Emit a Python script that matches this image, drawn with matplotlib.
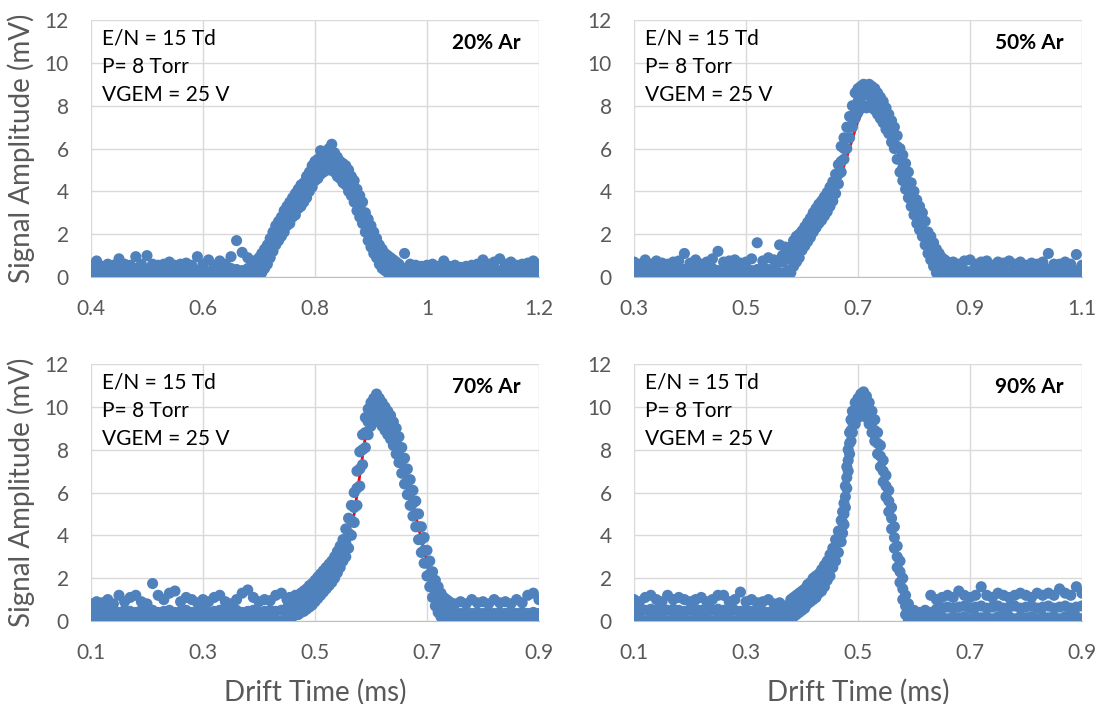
import matplotlib
matplotlib.use("Agg")
from matplotlib import pyplot as plt
from matplotlib.ticker import FuncFormatter

# ---- 20% Ar ----
t20 = [0.40, 0.41, 0.42, 0.43, 0.44, 0.45, 0.46, 0.47, 0.48, 0.49,
       0.50, 0.51, 0.52, 0.53, 0.54, 0.55, 0.56, 0.57, 0.58, 0.59,
       0.60, 0.61, 0.62, 0.63, 0.64, 0.65, 0.66, 0.67, 0.68, 0.69,
       0.700, 0.705, 0.710, 0.715, 0.720, 0.725, 0.730, 0.735, 0.740, 0.745,
       0.750, 0.755, 0.760, 0.765, 0.770, 0.775, 0.780, 0.785, 0.790, 0.795,
       0.800, 0.805, 0.810, 0.815, 0.820, 0.825, 0.830, 0.835, 0.840, 0.845,
       0.850, 0.855, 0.860, 0.865, 0.870, 0.875, 0.880, 0.885, 0.890, 0.895,
       0.900, 0.905, 0.910, 0.915, 0.920, 0.925, 0.930, 0.935, 0.940, 0.945,
       0.950,
       0.96, 0.97, 0.98, 0.99, 1.00, 1.01, 1.02, 1.03, 1.04, 1.05,
       1.06, 1.07, 1.08, 1.09, 1.10, 1.11, 1.12, 1.13, 1.14, 1.15,
       1.16, 1.17, 1.18, 1.19, 1.20]
lo20 = [0.05, 0.0, 0.1, 0.05, 0.0, 0.1, 0.05, 0.0, 0.1, 0.0,
        0.05, 0.1, 0.0, 0.05, 0.1, 0.0, 0.05, 0.1, 0.0, 0.05,
        0.1, 0.0, 0.05, 0.1, 0.0, 0.05, 0.1, 0.0, 0.1, 0.05,
        0.1, 0.2, 0.4, 0.6, 0.9, 1.2, 1.5, 1.7, 1.9, 2.1,
        2.4, 2.5, 2.8, 2.9, 3.2, 3.3, 3.5, 3.7, 4.0, 4.2,
        4.5, 4.6, 4.8, 4.9, 5.0, 5.0, 5.0, 4.9, 4.7, 4.6,
        4.4, 4.3, 4.0, 3.8, 3.5, 3.1, 2.8, 2.5, 2.1, 1.7,
        1.4, 1.1, 0.9, 0.6, 0.4, 0.3, 0.2, 0.1, 0.1, 0.05,
        0.0,
        0.1, 0.05, 0.1, 0.0, 0.1, 0.05, 0.0, 0.1, 0.05, 0.1,
        0.0, 0.05, 0.1, 0.0, 0.1, 0.05, 0.0, 0.1, 0.05, 0.1,
        0.0, 0.1, 0.05, 0.1, 0.0]
mid20 = [0.3, 0.35, 0.25, 0.4, 0.3, 0.35, 0.3, 0.25, 0.4, 0.3,
         0.35, 0.3, 0.25, 0.3, 0.35, 0.3, 0.25, 0.35, 0.3, 0.3,
         0.35, 0.25, 0.3, 0.35, 0.3, 0.4, 0.35, 0.3, 0.4, 0.35,
         0.5, 0.6, 0.9, 1.1, 1.4, 1.7, 1.95, 2.15, 2.35, 2.6,
         2.8, 3.0, 3.2, 3.4, 3.6, 3.8, 3.95, 4.2, 4.45, 4.7,
         4.9, 5.05, 5.2, 5.3, 5.4, 5.5, 5.5, 5.4, 5.2, 5.05,
         4.9, 4.75, 4.55, 4.3, 4.0, 3.6, 3.3, 3.0, 2.55, 2.2,
         1.9, 1.6, 1.4, 1.1, 0.9, 0.75, 0.6, 0.5, 0.45, 0.4,
         0.35,
         0.4, 0.3, 0.25, 0.3, 0.35, 0.3, 0.25, 0.3, 0.3, 0.35,
         0.25, 0.3, 0.3, 0.35, 0.3, 0.3, 0.35, 0.3, 0.3, 0.35,
         0.3, 0.25, 0.3, 0.35, 0.3]
hi20 = [0.55, 0.75, 0.5, 0.6, 0.55, 0.85, 0.6, 0.55, 0.95, 0.6,
        1.0, 0.6, 0.55, 0.6, 0.7, 0.55, 0.6, 0.65, 0.55, 0.95,
        0.6, 0.8, 0.55, 0.75, 0.6, 0.95, 1.7, 1.15, 0.9, 0.75,
        0.9, 1.1, 1.3, 1.5, 1.8, 2.1, 2.4, 2.6, 2.8, 3.1,
        3.3, 3.5, 3.7, 3.9, 4.1, 4.3, 4.4, 4.7, 4.9, 5.2,
        5.4, 5.5, 5.9, 5.7, 5.8, 6.0, 6.2, 5.8, 5.6, 5.4,
        5.3, 5.2, 5.0, 4.7, 4.5, 4.1, 3.8, 3.5, 3.0, 2.7,
        2.4, 2.1, 1.8, 1.5, 1.3, 1.1, 1.0, 0.9, 0.8, 0.7,
        0.6,
        1.1, 0.6, 0.55, 0.5, 0.55, 0.6, 0.5, 0.75, 0.5, 0.55,
        0.45, 0.5, 0.55, 0.6, 0.8, 0.6, 0.7, 0.85, 0.6, 0.7,
        0.55, 0.6, 0.65, 0.75, 0.6]
fit_t20 = [0.40, 0.68, 0.70, 0.73, 0.76, 0.79, 0.81, 0.83, 0.85, 0.87, 0.89, 0.92, 0.95, 1.00, 1.20]
fit_v20 = [0.3, 0.35, 0.5, 1.9, 3.2, 4.4, 5.1, 5.4, 4.9, 4.0, 2.6, 0.9, 0.4, 0.3, 0.3]

# ---- 50% Ar ----
t50 = [0.30, 0.31, 0.32, 0.33, 0.34, 0.35, 0.36, 0.37, 0.38, 0.39,
       0.40, 0.41, 0.42, 0.43, 0.44, 0.45, 0.46, 0.47, 0.48, 0.49,
       0.50, 0.51, 0.52, 0.53, 0.54, 0.55,
       0.560, 0.565, 0.570, 0.575, 0.580, 0.585, 0.590, 0.595, 0.600, 0.605,
       0.610, 0.615, 0.620, 0.625, 0.630, 0.635, 0.640, 0.645, 0.650, 0.655,
       0.660, 0.665, 0.670, 0.675, 0.680, 0.685, 0.690, 0.695, 0.700, 0.705,
       0.710, 0.715, 0.720, 0.725, 0.730, 0.735, 0.740, 0.745, 0.750, 0.755,
       0.760, 0.765, 0.770, 0.775, 0.780, 0.785, 0.790, 0.795, 0.800, 0.805,
       0.810, 0.815, 0.820, 0.825, 0.830, 0.835, 0.840, 0.845, 0.850, 0.855,
       0.860,
       0.87, 0.88, 0.89, 0.90, 0.91, 0.92, 0.93, 0.94, 0.95, 0.96,
       0.97, 0.98, 0.99, 1.00, 1.01, 1.02, 1.03, 1.04, 1.05, 1.06,
       1.07, 1.08, 1.09, 1.10]
lo50 = [0.1, 0.0, 0.05, 0.1, 0.0, 0.05, 0.1, 0.0, 0.05, 0.1,
        0.0, 0.05, 0.1, 0.0, 0.05, 0.1, 0.0, 0.05, 0.1, 0.0,
        0.05, 0.1, 0.0, 0.05, 0.1, 0.0,
        0.2, 0.1, 0.2, 0.3, 0.2, 0.5, 0.7, 0.9, 1.25, 1.45,
        1.65, 1.85, 2.1, 2.3, 2.5, 2.65, 2.85, 3.05, 3.3, 3.55,
        3.9, 4.35, 4.9, 5.5, 6.0, 6.5, 7.0, 7.4, 7.7, 7.9,
        8.0, 7.9, 8.0, 7.9, 7.8, 7.6, 7.4, 7.2, 6.9, 6.7,
        6.3, 6.0, 5.5, 4.9, 4.5, 4.1, 3.7, 3.3, 2.9, 2.5,
        2.2, 1.9, 1.5, 1.1, 0.8, 0.5, 0.2, 0.1, 0.05, 0.0,
        0.0,
        0.0, 0.1, 0.05, 0.0, 0.1, 0.05, 0.0, 0.1, 0.05, 0.0,
        0.1, 0.05, 0.0, 0.1, 0.05, 0.0, 0.1, 0.05, 0.0, 0.1,
        0.05, 0.0, 0.1, 0.05]
mid50 = [0.3, 0.35, 0.3, 0.3, 0.35, 0.3, 0.3, 0.4, 0.3, 0.35,
         0.3, 0.35, 0.3, 0.35, 0.4, 0.3, 0.35, 0.3, 0.4, 0.35,
         0.4, 0.3, 0.35, 0.4, 0.35, 0.4,
         0.7, 0.7, 0.8, 0.9, 1.0, 1.2, 1.35, 1.5, 1.7, 1.9,
         2.1, 2.3, 2.55, 2.75, 2.95, 3.1, 3.3, 3.5, 3.75, 4.0,
         4.35, 4.8, 5.4, 6.0, 6.5, 7.0, 7.5, 7.9, 8.2, 8.4,
         8.5, 8.5, 8.5, 8.4, 8.3, 8.1, 7.9, 7.7, 7.4, 7.2,
         6.9, 6.6, 6.1, 5.5, 5.1, 4.7, 4.3, 3.9, 3.5, 3.1,
         2.8, 2.5, 2.0, 1.6, 1.3, 1.0, 0.8, 0.6, 0.5, 0.4,
         0.35,
         0.3, 0.35, 0.3, 0.25, 0.3, 0.35, 0.3, 0.3, 0.35, 0.3,
         0.25, 0.3, 0.35, 0.3, 0.3, 0.25, 0.3, 0.35, 0.3, 0.3,
         0.35, 0.3, 0.3, 0.35]
hi50 = [0.7, 0.6, 0.8, 0.6, 0.75, 0.65, 0.6, 0.7, 0.75, 1.1,
        0.65, 0.8, 0.6, 0.7, 0.85, 1.2, 0.7, 0.75, 0.8, 0.65,
        0.7, 0.85, 1.6, 0.75, 0.9, 0.8,
        1.5, 1.0, 1.4, 1.2, 1.4, 1.7, 1.9, 2.0, 2.15, 2.35,
        2.55, 2.75, 3.0, 3.2, 3.4, 3.55, 3.75, 3.95, 4.2, 4.45,
        4.8, 5.25, 6.1, 6.5, 7.0, 7.5, 8.0, 8.6, 8.8, 8.9,
        9.0, 8.9, 9.0, 8.9, 8.8, 8.6, 8.4, 8.2, 7.9, 7.6,
        7.3, 7.0, 6.6, 6.0, 5.7, 5.3, 4.9, 4.4, 4.0, 3.6,
        3.3, 3.0, 2.6, 2.1, 1.9, 1.6, 1.3, 1.1, 0.9, 0.8,
        0.7,
        0.7, 0.6, 0.75, 0.8, 0.6, 0.7, 0.75, 0.55, 0.7, 0.65,
        0.75, 0.6, 0.7, 0.55, 0.65, 0.6, 0.7, 1.1, 0.6, 0.6,
        0.7, 0.6, 1.05, 0.55]
fit_t50 = [0.30, 0.55, 0.60, 0.63, 0.66, 0.68, 0.70, 0.72, 0.74, 0.76, 0.78, 0.80, 0.82, 0.85, 0.90, 1.10]
fit_v50 = [0.3, 0.4, 1.2, 2.4, 4.0, 5.6, 7.3, 8.3, 8.1, 7.0, 5.0, 3.3, 1.7, 0.7, 0.3, 0.3]

# ---- 70% Ar ----
t70 = [0.10, 0.11, 0.12, 0.13, 0.14, 0.15, 0.16, 0.17, 0.18, 0.19,
       0.20, 0.21, 0.22, 0.23, 0.24, 0.25, 0.26, 0.27, 0.28, 0.29,
       0.30, 0.31, 0.32, 0.33, 0.34, 0.35, 0.36, 0.37, 0.38, 0.39,
       0.40, 0.41, 0.42, 0.43, 0.44,
       0.450, 0.455, 0.460, 0.465, 0.470, 0.475, 0.480, 0.485, 0.490, 0.495,
       0.500, 0.505, 0.510, 0.515, 0.520, 0.525, 0.530, 0.535, 0.540, 0.545,
       0.550, 0.555, 0.560, 0.565, 0.570, 0.575, 0.580, 0.585, 0.590, 0.595,
       0.600, 0.605, 0.610, 0.615, 0.620, 0.625, 0.630, 0.635, 0.640, 0.645,
       0.650, 0.655, 0.660, 0.665, 0.670, 0.675, 0.680, 0.685, 0.690, 0.695,
       0.700, 0.705, 0.710, 0.715, 0.720, 0.725, 0.730, 0.735, 0.740, 0.745,
       0.750,
       0.76, 0.77, 0.78, 0.79, 0.80, 0.81, 0.82, 0.83, 0.84, 0.85,
       0.86, 0.87, 0.88, 0.89, 0.90]
lo70 = [0.05, 0.0, 0.1, 0.05, 0.0, 0.1, 0.05, 0.0, 0.1, 0.05,
        0.0, 0.1, 0.05, 0.0, 0.1, 0.05, 0.0, 0.1, 0.05, 0.0,
        0.1, 0.05, 0.0, 0.1, 0.05, 0.0, 0.1, 0.05, 0.0, 0.1,
        0.05, 0.0, 0.1, 0.05, 0.0,
        0.2, 0.1, 0.2, 0.3, 0.3, 0.4, 0.45, 0.55, 0.65, 0.75,
        0.9, 1.05, 1.2, 1.35, 1.5, 1.65, 1.8, 2.0, 2.25, 2.5,
        2.8, 3.0, 3.4, 4.0, 4.6, 5.4, 6.3, 7.3, 8.1, 8.7,
        9.1, 9.3, 9.4, 9.3, 9.1, 8.9, 8.7, 8.5, 8.2, 7.8,
        7.4, 6.9, 6.4, 5.9, 5.4, 4.9, 4.4, 3.8, 3.2, 2.7,
        2.1, 1.6, 1.1, 0.7, 0.4, 0.2, 0.1, 0.05, 0.0, 0.1,
        0.0,
        0.0, 0.1, 0.05, 0.0, 0.1, 0.05, 0.0, 0.1, 0.05, 0.0,
        0.1, 0.05, 0.0, 0.1, 0.05]
mid70 = [0.4, 0.45, 0.4, 0.5, 0.45, 0.4, 0.5, 0.45, 0.4, 0.5,
         0.45, 0.5, 0.4, 0.45, 0.5, 0.4, 0.45, 0.5, 0.4, 0.45,
         0.5, 0.4, 0.45, 0.5, 0.4, 0.45, 0.5, 0.4, 0.45, 0.5,
         0.4, 0.45, 0.5, 0.45, 0.5,
         0.6, 0.6, 0.65, 0.7, 0.75, 0.8, 0.9, 1.0, 1.1, 1.2,
         1.35, 1.5, 1.65, 1.8, 2.0, 2.15, 2.3, 2.5, 2.75, 3.0,
         3.3, 3.65, 4.1, 4.7, 5.3, 6.2, 7.1, 8.0, 8.8, 9.3,
         9.7, 9.9, 10.0, 9.9, 9.7, 9.5, 9.3, 9.1, 8.8, 8.4,
         8.0, 7.5, 7.0, 6.5, 6.0, 5.5, 5.0, 4.4, 3.8, 3.3,
         2.7, 2.2, 1.7, 1.3, 1.0, 0.8, 0.6, 0.5, 0.45, 0.4,
         0.4,
         0.35, 0.4, 0.35, 0.4, 0.35, 0.4, 0.35, 0.4, 0.35, 0.4,
         0.35, 0.4, 0.35, 0.4, 0.35]
hi70 = [0.8, 0.9, 0.85, 1.0, 0.8, 1.2, 0.9, 1.1, 1.2, 0.9,
        0.8, 1.75, 1.2, 1.0, 1.3, 1.4, 0.9, 1.1, 1.0, 0.85,
        1.0, 0.9, 1.1, 1.2, 0.9, 0.8, 1.0, 1.3, 1.45, 1.1,
        0.9, 1.0, 0.95, 1.2, 1.3,
        1.0, 1.1, 1.0, 1.2, 1.2, 1.3, 1.4, 1.5, 1.65, 1.75,
        1.9, 2.05, 2.2, 2.35, 2.5, 2.65, 2.8, 3.0, 3.25, 3.5,
        3.8, 4.3, 4.8, 5.4, 6.0, 7.0, 7.9, 8.7, 9.5, 9.9,
        10.2, 10.4, 10.6, 10.4, 10.2, 10.0, 9.8, 9.6, 9.3, 9.0,
        8.6, 8.1, 7.6, 7.1, 6.6, 6.1, 5.6, 5.0, 4.4, 3.9,
        3.3, 2.8, 2.3, 1.9, 1.6, 1.3, 1.1, 1.0, 0.9, 0.8,
        0.8,
        0.9, 0.8, 1.0, 0.85, 0.9, 0.8, 1.0, 0.85, 0.9, 0.8,
        1.0, 0.85, 1.2, 1.3, 1.0]
fit_t70 = [0.10, 0.45, 0.48, 0.52, 0.55, 0.57, 0.59, 0.61, 0.63, 0.65, 0.67, 0.69, 0.71, 0.74, 0.90]
fit_v70 = [0.4, 0.5, 0.8, 1.9, 3.3, 5.0, 8.6, 9.9, 9.3, 8.0, 6.0, 3.8, 1.7, 0.5, 0.4]

# ---- 90% Ar ----
t90 = [0.10, 0.11, 0.12, 0.13, 0.14, 0.15, 0.16, 0.17, 0.18, 0.19,
       0.20, 0.21, 0.22, 0.23, 0.24, 0.25, 0.26, 0.27, 0.28, 0.29,
       0.30, 0.31, 0.32, 0.33, 0.34, 0.35, 0.36, 0.37,
       0.380, 0.385, 0.390, 0.395, 0.400, 0.405, 0.410, 0.415, 0.420, 0.425,
       0.430, 0.435, 0.440, 0.445, 0.450, 0.455, 0.460, 0.465, 0.470, 0.4725,
       0.475, 0.4775, 0.480, 0.4825, 0.485, 0.4875, 0.490, 0.495, 0.500, 0.505,
       0.510, 0.515, 0.520, 0.525, 0.530, 0.535, 0.540, 0.545, 0.550, 0.555,
       0.560, 0.565, 0.570, 0.575, 0.580, 0.585, 0.590, 0.595, 0.600,
       0.61, 0.62, 0.63, 0.64, 0.65, 0.66, 0.67, 0.68, 0.69, 0.70,
       0.71, 0.72, 0.73, 0.74, 0.75, 0.76, 0.77, 0.78, 0.79, 0.80,
       0.81, 0.82, 0.83, 0.84, 0.85, 0.86, 0.87, 0.88, 0.89, 0.90]
lo90 = [0.05, 0.1, 0.0, 0.1, 0.05, 0.1, 0.0, 0.1, 0.05, 0.1,
        0.0, 0.1, 0.05, 0.1, 0.0, 0.1, 0.05, 0.1, 0.0, 0.1,
        0.05, 0.1, 0.0, 0.1, 0.05, 0.0, 0.1, 0.05,
        0.1, 0.2, 0.3, 0.4, 0.5, 0.6, 0.8, 0.9, 1.0, 1.1,
        1.3, 1.4, 1.6, 1.9, 2.1, 2.5, 2.8, 3.2, 3.7, 4.1,
        4.5, 5.3, 6.2, 7.0, 7.8, 8.4, 8.8, 9.2, 9.5, 9.6,
        9.7, 9.5, 9.2, 8.8, 8.4, 7.8, 7.2, 6.5, 5.8, 5.1,
        4.3, 3.4, 2.5, 1.8, 1.0, 0.3, 0.05, 0.0, 0.0,
        0.0, 0.05, 0.0, 0.1, 0.2, 0.1, 0.2, 0.15, 0.2, 0.1,
        0.2, 0.15, 0.2, 0.1, 0.2, 0.15, 0.2, 0.1, 0.2, 0.15,
        0.2, 0.1, 0.2, 0.15, 0.2, 0.1, 0.2, 0.15, 0.2, 0.1]
mid90 = [0.5, 0.45, 0.5, 0.55, 0.5, 0.45, 0.5, 0.55, 0.5, 0.45,
         0.5, 0.55, 0.5, 0.45, 0.5, 0.55, 0.5, 0.45, 0.5, 0.45,
         0.5, 0.45, 0.4, 0.45, 0.4, 0.35, 0.4, 0.35,
         0.6, 0.7, 0.8, 0.9, 1.0, 1.1, 1.25, 1.35, 1.5, 1.6,
         1.75, 1.9, 2.1, 2.35, 2.6, 2.95, 3.3, 3.7, 4.2, 4.6,
         5.0, 5.8, 6.7, 7.5, 8.3, 8.9, 9.3, 9.7, 9.9, 10.1,
         10.2, 10.0, 9.7, 9.3, 8.9, 8.3, 7.7, 7.0, 6.3, 5.6,
         4.8, 3.9, 3.0, 2.3, 1.5, 0.7, 0.35, 0.3, 0.3,
         0.2, 0.25, 0.4, 0.55, 0.6, 0.65, 0.6, 0.65, 0.7, 0.6,
         0.65, 0.7, 0.6, 0.65, 0.7, 0.6, 0.65, 0.7, 0.6, 0.65,
         0.7, 0.6, 0.65, 0.7, 0.6, 0.65, 0.7, 0.6, 0.65, 0.7]
hi90 = [1.0, 0.9, 1.1, 1.2, 1.0, 0.9, 1.2, 1.0, 1.1, 1.0,
        0.9, 1.0, 1.1, 0.9, 1.0, 1.2, 1.2, 0.9, 1.0, 1.35,
        0.9, 1.0, 0.85, 0.9, 1.0, 0.8, 0.85, 0.7,
        1.0, 1.1, 1.2, 1.3, 1.4, 1.5, 1.7, 1.8, 2.0, 2.1,
        2.2, 2.4, 2.6, 2.8, 3.1, 3.4, 3.8, 4.2, 4.7, 5.1,
        5.5, 6.3, 7.2, 8.0, 8.8, 9.4, 9.8, 10.2, 10.4, 10.6,
        10.7, 10.5, 10.2, 9.8, 9.4, 8.8, 8.2, 7.5, 6.8, 6.1,
        5.3, 4.4, 3.5, 2.8, 2.0, 1.2, 0.8, 0.5, 0.5,
        0.4, 0.5, 1.2, 1.0, 1.1, 1.2, 1.1, 1.4, 1.2, 1.1,
        1.2, 1.6, 1.2, 1.1, 1.3, 1.2, 1.1, 1.2, 1.3, 1.2,
        1.1, 1.3, 1.2, 1.3, 1.2, 1.5, 1.3, 1.2, 1.6, 1.3]
fit_t90 = [0.10, 0.38, 0.42, 0.45, 0.47, 0.48, 0.49, 0.50, 0.51, 0.53, 0.55, 0.57, 0.59, 0.61, 0.90]
fit_v90 = [0.5, 0.5, 1.3, 2.5, 4.0, 6.8, 9.0, 9.9, 10.1, 8.8, 6.2, 3.0, 0.5, 0.5, 0.7]

panels = [
    ("20% Ar", t20, [lo20, mid20, hi20], fit_t20, fit_v20, [0.4, 0.6, 0.8, 1.0, 1.2]),
    ("50% Ar", t50, [lo50, mid50, hi50], fit_t50, fit_v50, [0.3, 0.5, 0.7, 0.9, 1.1]),
    ("70% Ar", t70, [lo70, mid70, hi70], fit_t70, fit_v70, [0.1, 0.3, 0.5, 0.7, 0.9]),
    ("90% Ar", t90, [lo90, mid90, hi90], fit_t90, fit_v90, [0.1, 0.3, 0.5, 0.7, 0.9]),
]

plt.rcParams["font.family"] = ["Lato", "DejaVu Sans"]
blue = "#4F81BD"
gray = "#595959"

fig = plt.figure(figsize=(10.99, 7.04), dpi=100)
boxes = [
    [0.0828, 0.6065, 0.4076, 0.365],
    [0.5769, 0.6065, 0.4076, 0.365],
    [0.0828, 0.1179, 0.4076, 0.365],
    [0.5769, 0.1179, 0.4076, 0.365],
]

for i, (name, t, ys, ft, fv, xt) in enumerate(panels):
    ax = fig.add_axes(boxes[i])
    ax.plot(ft, fv, color="red", lw=2, zorder=2)
    for y in ys:
        ax.scatter(t, y, s=64, color=blue, edgecolors="none", zorder=3)

    ax.set_xlim(xt[0], xt[-1])
    ax.set_ylim(0, 12)
    ax.set_xticks(xt)
    ax.set_yticks([0, 2, 4, 6, 8, 10, 12])
    ax.xaxis.set_major_formatter(FuncFormatter(lambda v, p: f"{v:g}"))
    ax.grid(True, color="#D9D9D9", lw=1)
    ax.set_axisbelow(True)
    for s in ["top", "right", "left"]:
        ax.spines[s].set_visible(False)
    ax.spines["bottom"].set_color("#BFBFBF")
    ax.tick_params(length=0, labelsize=15, colors=gray)
    ax.tick_params(axis="x", pad=16)
    ax.tick_params(axis="y", pad=16)

    ax.text(0.025, 0.93, "E/N = 15 Td", transform=ax.transAxes, fontsize=15, va="center")
    ax.text(0.025, 0.817, "P= 8 Torr", transform=ax.transAxes, fontsize=15, va="center")
    ax.text(0.025, 0.708, "VGEM = 25 V", transform=ax.transAxes, fontsize=15, va="center")
    ax.text(0.958, 0.91, name, transform=ax.transAxes, fontsize=15,
            fontweight="bold", ha="right", va="center")

    if i % 2 == 0:
        ax.text(-0.156, 0.5, "Signal Amplitude (mV)", transform=ax.transAxes,
                fontsize=20, color=gray, rotation=90, ha="center", va="center")
    if i >= 2:
        ax.text(0.5, -0.276, "Drift Time (ms)", transform=ax.transAxes,
                fontsize=20, color=gray, ha="center", va="center")

fig.savefig("out.png", dpi=100)
